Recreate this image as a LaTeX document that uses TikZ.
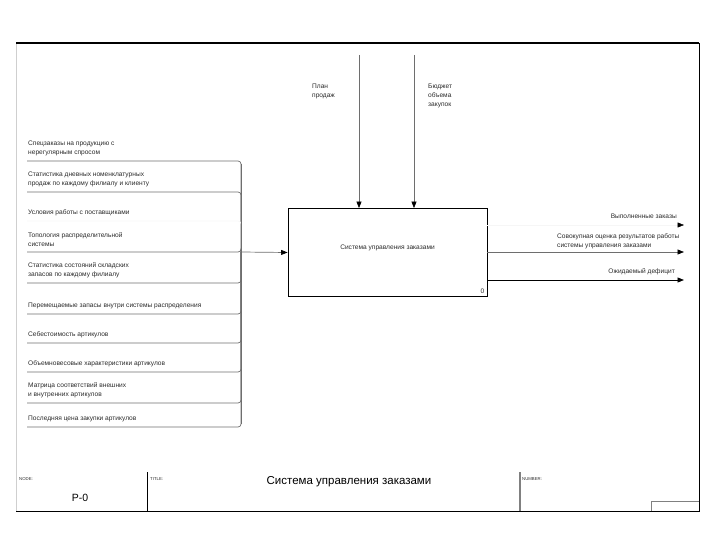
\documentclass[tikz,border=0pt]{standalone}
\usepackage{fontspec}
\setmainfont{Liberation Sans}
\usetikzlibrary{arrows.meta,calc,positioning}
\definecolor{framegray}{HTML}{CFCFCF}
\definecolor{linegray}{HTML}{6E6E6E}
\definecolor{faintgray}{HTML}{F6F6F6}
\definecolor{inkgray}{HTML}{2A2A2A}
\newcommand\lblfont{\fontsize{6.6}{8.8}\selectfont}

\begin{document}
\begin{tikzpicture}[x=1pt,y=-1pt,
  arr/.style={-{Triangle[length=6.5pt,width=5pt,black]}},
  lbl/.style={font=\lblfont,align=left,inner sep=0pt,text=inkgray},
  hdr/.style={font=\fontsize{4.3}{5}\selectfont,inner sep=0pt,anchor=west,text=inkgray},
  busline/.style={linegray,line width=0.7pt}]

\useasboundingbox (0,0) rectangle (720,540);

% frame and footer
\draw[framegray,line width=0.6pt] (16,43) -- (16,511);
\draw[black,line width=1.3pt] (16,43) -- (699,43);
\draw[black,line width=0.9pt] (699,43) -- (699,511) -- (16,511);
\draw[black,line width=0.8pt] (147,472) -- (147,511);
\draw[gray,line width=1.2pt] (520,472) -- (520,511);
\draw[gray,line width=0.8pt] (651,511) |- (699,501);

\node[hdr] (nodehdr) at (19,479) {NODE:};
\node[font=\fontsize{10.5}{12}\selectfont,inner sep=0pt] (nodeid) at (80,498) {P-0};
\node[hdr] (titlehdr) at (150,479) {TITLE:};
\node[font=\fontsize{11.5}{13}\selectfont,inner sep=0pt] (title) at (349,482) {Система управления заказами};
\node[hdr] (numhdr) at (522,479) {NUMBER:};

% function box
\node[draw,line width=0.9pt,minimum width=199pt,minimum height=88pt,inner sep=0pt] (box) at (387.5,252.5) {};
\node[lbl] (boxtxt) at ($(box.center)+(0,-5)$) {Система управления заказами};
\node[lbl,anchor=south east] (boxno) at ($(box.south east)+(-3,-3)$) {0};

% controls
\coordinate (c1) at (359,55);
\coordinate (c2) at (414,55);
\draw[busline,arr] (c1) -- (c1 |- box.north);
\draw[busline,arr] (c2) -- (c2 |- box.north);
\node[lbl,anchor=north west] (ctl1) at (312,84) {План\\продаж};
\node[lbl,anchor=north west] (ctl2) at (428,84) {Бюджет\\объема\\закупок};

% inputs
\coordinate (bus) at (241,252);
\foreach \ly/\col/\txt [count=\i] in {
  161/linegray/{Спецзаказы на продукцию с\\нерегулярным спросом},
  192/linegray/{Статистика дневных номенклатурных\\продаж по каждому филиалу и клиенту},
  221/faintgray/{Условия работы с поставщиками},
  252/linegray/{Топология распределительной\\системы},
  283/linegray/{Статистика состояний складских\\запасов по каждому филиалу},
  314/linegray/{Перемещаемые запасы внутри системы распределения},
  343/linegray/{Себестоимость артикулов},
  372/linegray/{Объемновесовые характеристики артикулов},
  403/linegray/{Матрица соответствий внешних\\и внутренних артикулов},
  427/linegray/{Последняя цена закупки артикулов}}
{
  \coordinate (s\i) at (27,\ly);
  \node[lbl,above right=5pt and 1pt of s\i] (in\i) {\txt};
  \draw[\col,line width=0.7pt,rounded corners=3pt] (s\i) -| (bus);
}
\draw[busline] ($(s1 -| bus)+(0,3)$) -- ($(s10 -| bus)+(0,-3)$);
\draw[busline,arr] (bus) -- (box.west);

% outputs
\coordinate (o1) at (684,225);
\coordinate (o2) at (684,252);
\coordinate (o3) at (684,280);
\draw[faintgray,line width=0.5pt,arr] (box.east |- o1) -- (o1);
\draw[busline,arr] (box.east |- o2) -- (o2);
\draw[black,line width=0.9pt,arr] (box.east |- o3) -- (o3);
\node[lbl,above left=6pt and 7pt of o1] (out1) {Выполненные заказы};
\node[lbl,anchor=south west] (out2) at (557,249) {Совокупная оценка результатов работы\\системы управления заказами};
\node[lbl,above left=5pt and 9pt of o3] (out3) {Ожидаемый дефицит};

\end{tikzpicture}
\end{document}
